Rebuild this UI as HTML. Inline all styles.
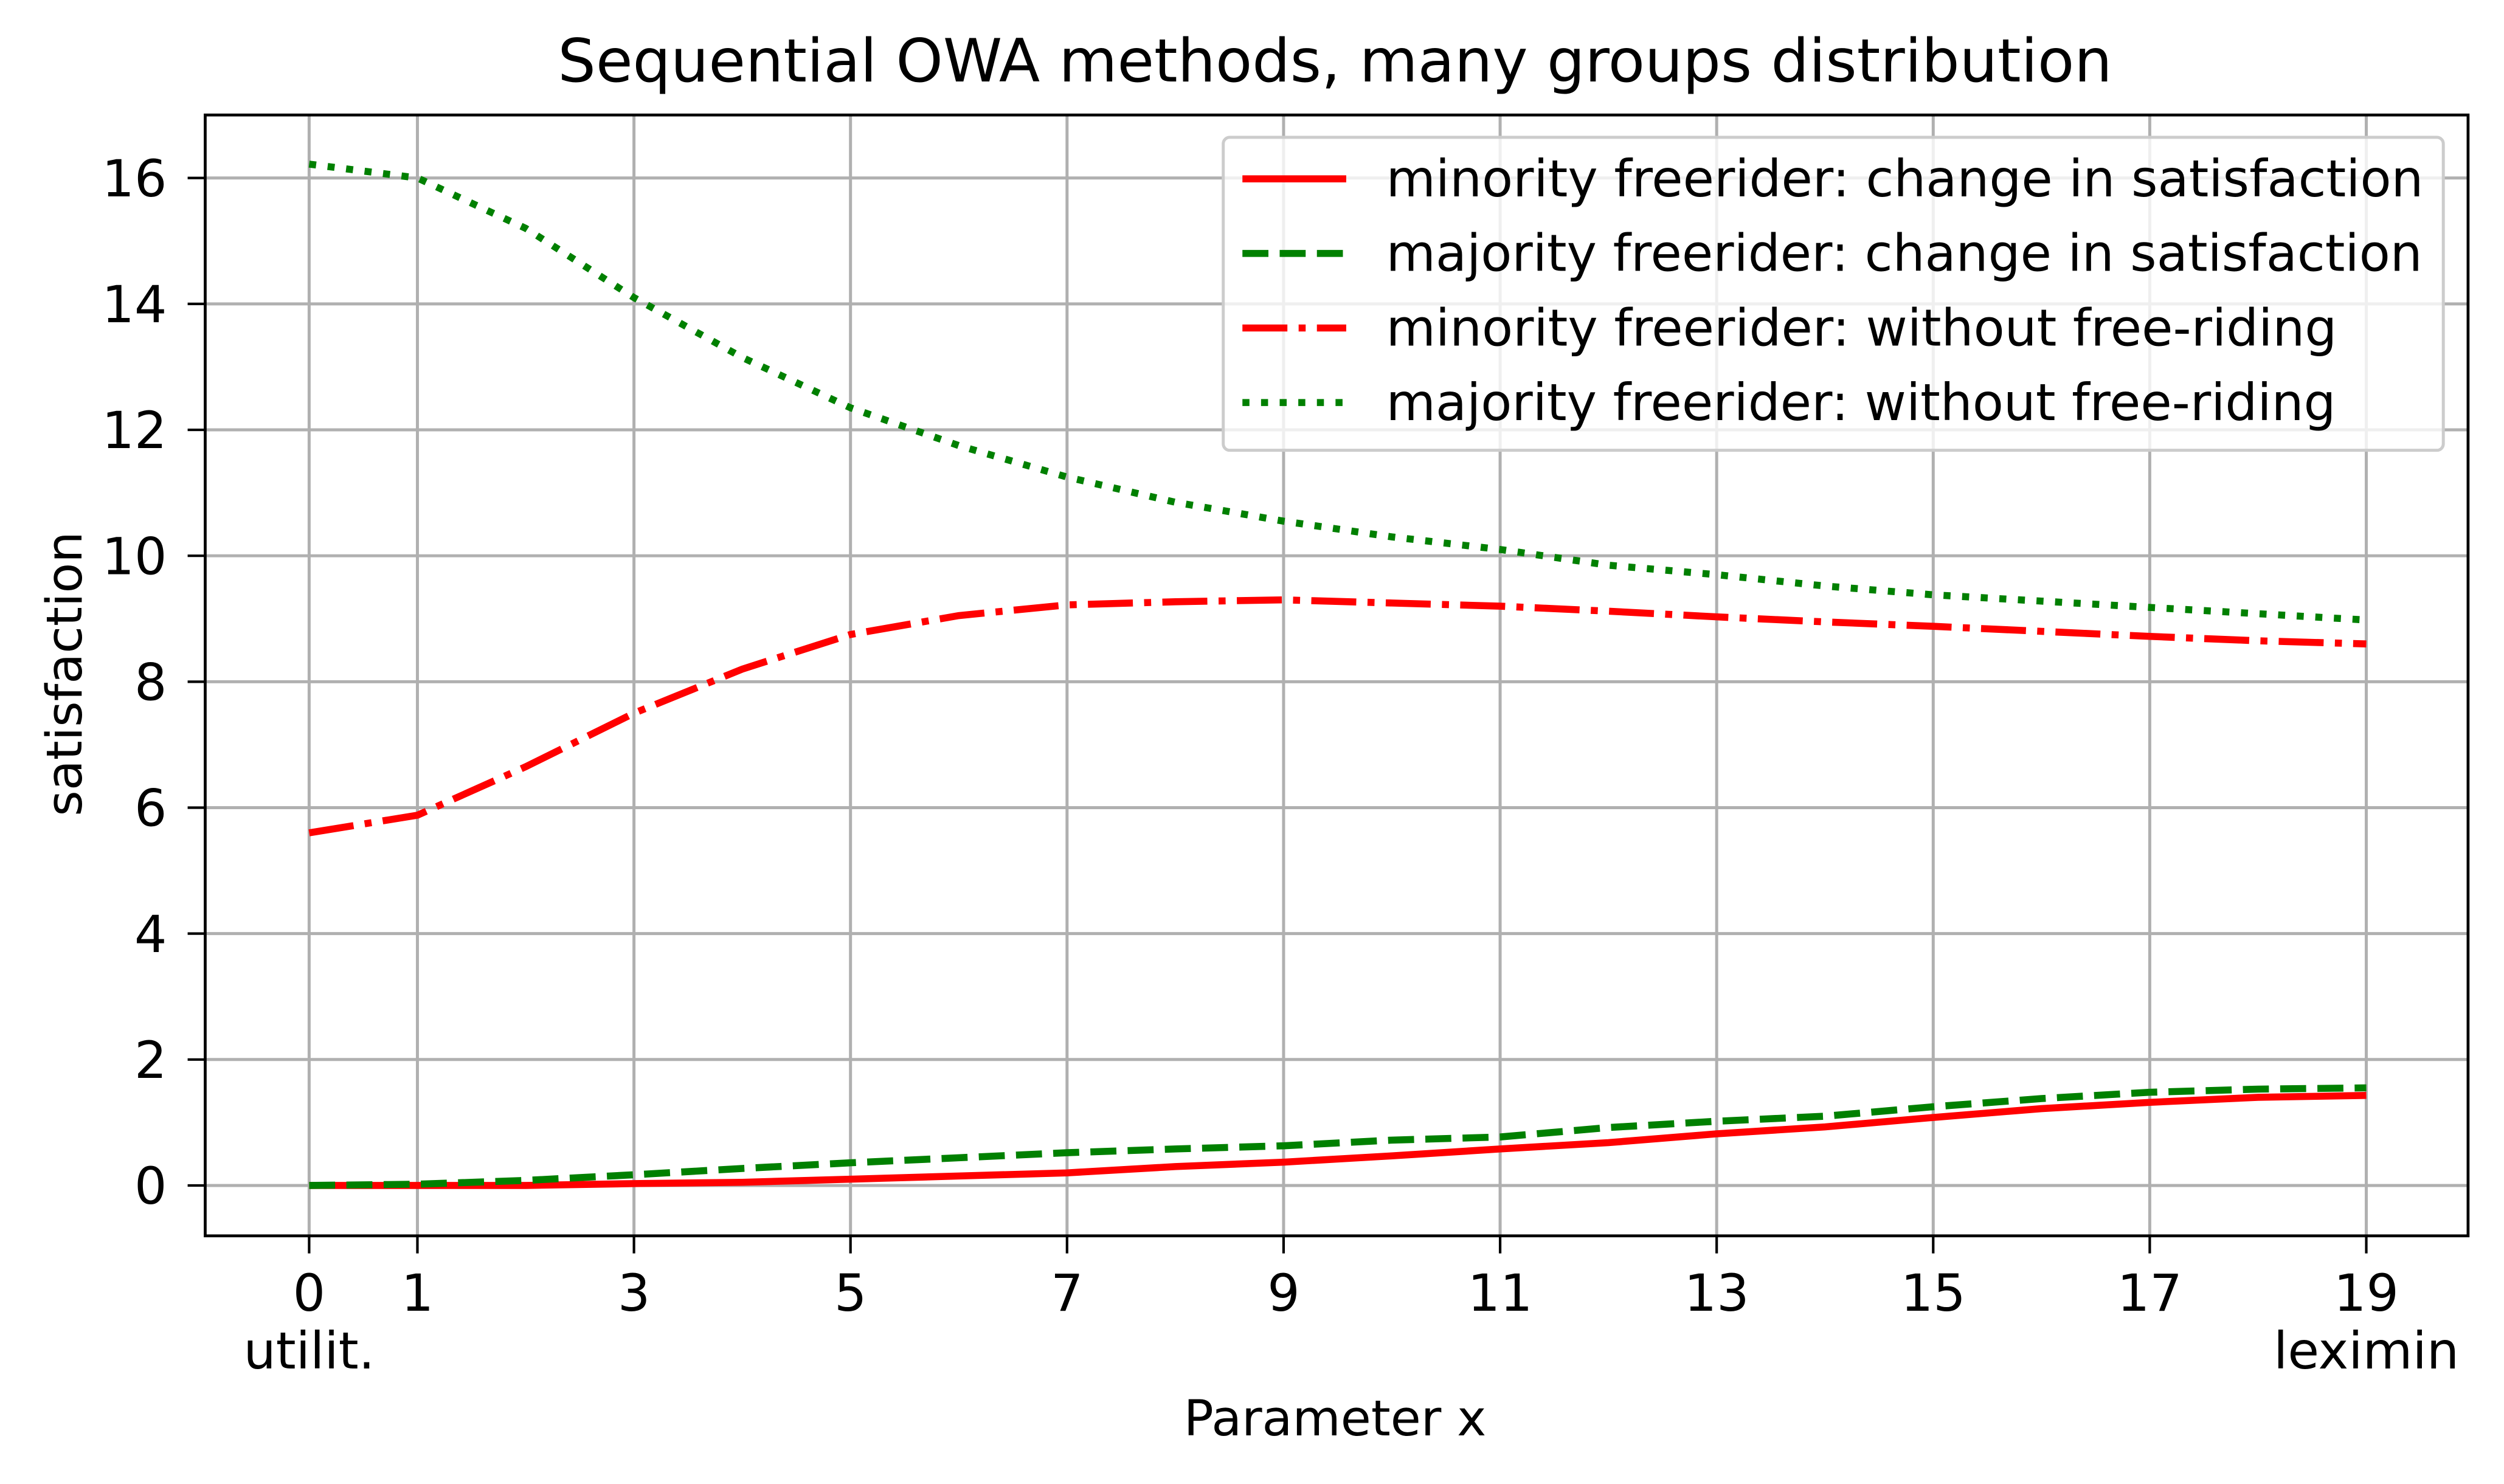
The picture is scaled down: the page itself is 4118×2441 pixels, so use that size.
<!DOCTYPE html>
<html><head><meta charset="utf-8"><style>html,body{margin:0;padding:0;background:#fff}svg{display:block}text{font-family:"DejaVu Sans","Liberation Sans",sans-serif}</style></head>
<body>
<svg id="chart" width="4118" height="2441" viewBox="0 0 1568 929.4" xmlns="http://www.w3.org/2000/svg">
<rect width="1568" height="929.4" fill="#fff"/>
<g id="grid"></g>
<g id="series"></g>
<rect x="128.5" y="72" width="1417" height="702" fill="none" stroke="#000" stroke-width="1.8"/>
<g id="ticks"></g>
<text x="836" y="51" font-size="37.5" text-anchor="middle">Sequential OWA methods, many groups distribution</text>
<text x="836" y="899" font-size="31" text-anchor="middle">Parameter x</text>
<text transform="translate(51,422) rotate(-90)" font-size="31" text-anchor="middle">satisfaction</text>
<g id="legend"></g>
</svg>
<script>
const xs = [0,1,2,3,4,5,6,7,8,9,10,11,12,13,14,15,16,17,18,19];
const minorityChange = [0,0,0,0.03,0.05,0.1,0.15,0.2,0.3,0.37,0.47,0.58,0.68,0.82,0.93,1.08,1.22,1.32,1.4,1.43];
const majorityChange = [0,0.02,0.08,0.17,0.27,0.36,0.44,0.52,0.58,0.63,0.72,0.77,0.92,1.02,1.1,1.25,1.38,1.48,1.53,1.55];
const minorityWithout = [5.6,5.88,6.65,7.5,8.2,8.75,9.05,9.22,9.27,9.3,9.25,9.2,9.12,9.03,8.95,8.88,8.8,8.72,8.65,8.6];
const majorityWithout = [16.22,16.0,15.2,14.1,13.15,12.35,11.75,11.25,10.85,10.55,10.3,10.1,9.85,9.7,9.52,9.38,9.28,9.18,9.08,8.98];
const xTicks = [0,1,3,5,7,9,11,13,15,17,19];
const yTicks = [0,2,4,6,8,10,12,14,16];
const legendLabels = ["minority freerider: change in satisfaction","majority freerider: change in satisfaction","minority freerider: without free-riding","majority freerider: without free-riding"];

const NS="http://www.w3.org/2000/svg";
const X0=128.5,X1=1545.5,Y0=72,Y1=774,xmin=-0.96,xmax=19.94,ymin=-0.8,ymax=17.0;
const sx=v=>X0+(v-xmin)/(xmax-xmin)*(X1-X0);
const sy=v=>Y1-(v-ymin)/(ymax-ymin)*(Y1-Y0);
function mk(tag,attrs,parent){const e=document.createElementNS(NS,tag);for(const k in attrs)e.setAttribute(k,attrs[k]);parent.appendChild(e);return e;}
const grid=document.getElementById('grid'),ticks=document.getElementById('ticks'),series=document.getElementById('series'),legend=document.getElementById('legend');
xTicks.forEach(t=>{
  const g=mk('line',{x1:sx(t),x2:sx(t),y1:Y0,y2:Y1,stroke:'#b0b0b0','stroke-width':1.9},grid);
  
  
  const tk=mk('line',{x1:sx(t),x2:sx(t),y1:Y1,y2:Y1+11,stroke:'#000','stroke-width':1.6},ticks);
  
  
  const tx=mk('text',{x:sx(t),y:821,'font-size':32,'text-anchor':'middle'},ticks);
  
  
  tx.textContent=t;
});
[["utilit.",0],["leximin",19]].forEach(([s,t])=>{
  const tx=mk('text',{x:sx(t),y:857,'font-size':32,'text-anchor':'middle'},ticks);
  
  
  tx.textContent=s;
});
yTicks.forEach(t=>{
  const g=mk('line',{x1:X0,x2:X1,y1:sy(t),y2:sy(t),stroke:'#b0b0b0','stroke-width':1.9},grid);
  
  
  const tk=mk('line',{x1:X0-11,x2:X0,y1:sy(t),y2:sy(t),stroke:'#000','stroke-width':1.6},ticks);
  
  
  const tx=mk('text',{x:X0-24,y:sy(t)+11.5,'font-size':32,'text-anchor':'end'},ticks);
  
  
  tx.textContent=t;
});
const lw=4.4;
const styles=[{c:'#ff0000',d:''},{c:'#008000',d:`${3.7*lw} ${1.6*lw}`},{c:'#ff0000',d:`${6.4*lw} ${1.6*lw} ${1*lw} ${1.6*lw}`},{c:'#008000',d:`${1*lw} ${1.65*lw}`}];
const data=[minorityChange,majorityChange,minorityWithout,majorityWithout];
const names=['minority-change-line','majority-change-line','minority-without-line','majority-without-line'];
data.forEach((arr,i)=>{
  const d=arr.map((v,j)=>(j?'L':'M')+sx(xs[j]).toFixed(2)+','+sy(v).toFixed(2)).join(' ');
  const p=mk('path',{d:d,fill:'none',stroke:styles[i].c,'stroke-width':lw,'stroke-dasharray':styles[i].d},series);
  
  
});
const box=mk('rect',{x:766,y:86,width:764,height:196,rx:4,fill:'#fff','fill-opacity':0.8,stroke:'#cccccc','stroke-width':1.9},legend);


legendLabels.forEach((s,i)=>{
  const y=112+i*46.7;
  const l=mk('line',{x1:778,x2:843,y1:y,y2:y,stroke:styles[i].c,'stroke-width':lw,'stroke-dasharray':styles[i].d},legend);
  
  
  const t=mk('text',{x:868,y:y+11,'font-size':31.8},legend);
  
  
  t.textContent=s;
});
</script>
</body></html>
